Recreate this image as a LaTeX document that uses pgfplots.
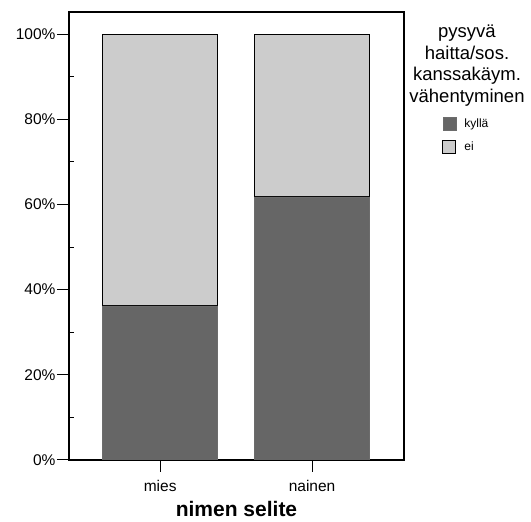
\documentclass[border=0pt]{standalone}
\usepackage{pgfplots}
\pgfplotsset{compat=1.18}
\usepackage{fontspec}
\setmainfont{Liberation Sans}
\definecolor{dk}{HTML}{666666}
\definecolor{lt}{HTML}{CCCCCC}
\begin{document}
\begin{tikzpicture}[x=1pt,y=1pt]
\path[use as bounding box] (-69,-62) rectangle (462,460);
\begin{axis}[
  at={(0,0)}, anchor=south west,
  scale only axis, width=335pt, height=448pt,
  ybar stacked, bar width=115pt,
  xmin=-0.6, xmax=1.605, ymin=0, ymax=105.2,
  xtick={0,1}, xticklabels={mies,nainen},
  ytick={0,20,40,60,80,100}, minor ytick={10,30,50,70,90},
  yticklabel={\pgfmathprintnumber{\tick}\%},
  /pgf/number format/assume math mode=true,
  tick pos=left, tick align=outside,
  major tick length=12pt, minor tick length=5pt,
  minor y tick style={xshift=5pt},
  tick style={black, line width=1pt},
  axis line style={line width=1.3pt},
  ticklabel style={font=\fontsize{15.5}{18}\selectfont},
  yticklabel style={xshift=2pt},
  xticklabel style={yshift=-5pt},
  xlabel={\bfseries nimen selite},
  xlabel style={font=\fontsize{21}{24}\selectfont, yshift=-3pt},
  legend style={at={(1.1134,0.766)}, anchor=north west, draw=none, fill=none,
    font=\fontsize{12}{14}\selectfont, row sep=9pt, inner sep=0pt},
  legend cell align=left,
  legend image code/.code={\draw[#1] (0pt,-6.5pt) rectangle (13pt,6.5pt); \path (19pt,0pt);},
]
\addplot[fill=dk, draw=gray!85!black, line width=0.5pt] coordinates {(0,36.2) (1,61.8)};
\addplot[fill=lt, draw=black, line width=1.2pt] coordinates {(0,63.8) (1,38.2)};
\legend{kyllä, ei}
\end{axis}
\node[anchor=north, align=center, inner sep=0pt, font=\fontsize{18.5}{21.5}\selectfont] at (398,435)
  {pysyvä\\haitta/sos.\\kanssakäym.\\vähentyminen};
\end{tikzpicture}
\end{document}
